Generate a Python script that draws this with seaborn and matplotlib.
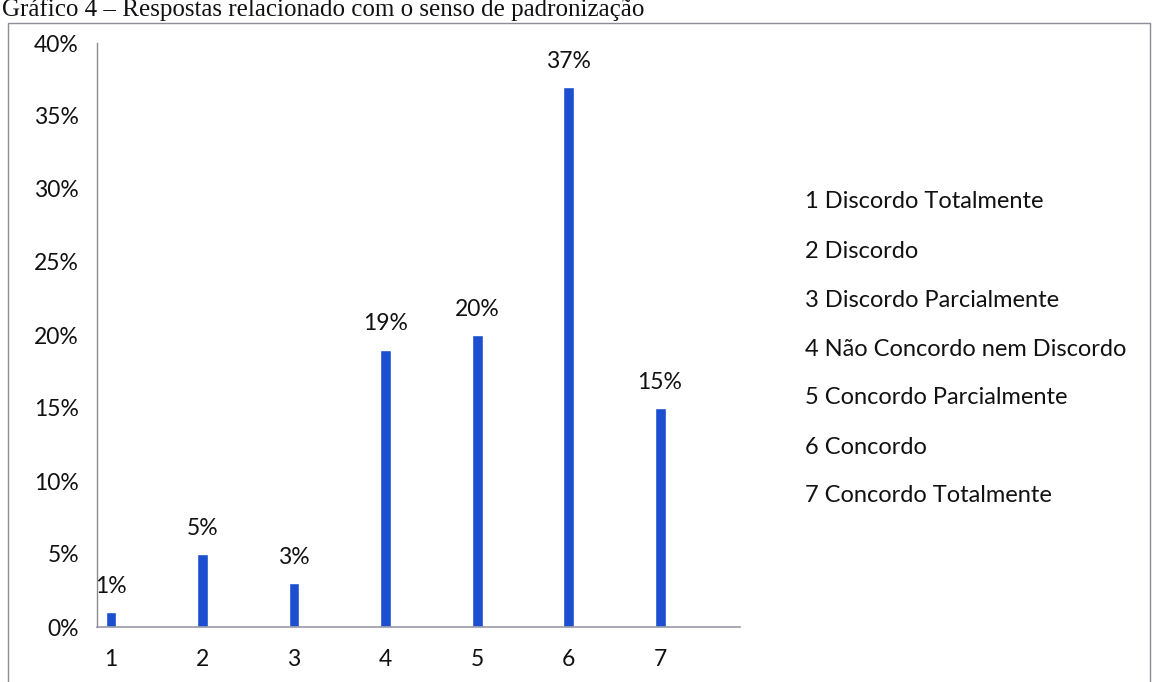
import matplotlib
matplotlib.use("Agg")
import matplotlib.pyplot as plt
import seaborn as sns
import pandas as pd
from matplotlib.patches import Rectangle

# === Data ===
categories = ["1", "2", "3", "4", "5", "6", "7"]
percent = [1, 5, 3, 19, 20, 37, 15]
y_ticks = [0, 5, 10, 15, 20, 25, 30, 35, 40]
legend_lines = [
    "1 Discordo Totalmente",
    "2 Discordo",
    "3 Discordo Parcialmente",
    "4 Não Concordo nem Discordo",
    "5 Concordo Parcialmente",
    "6 Concordo",
    "7 Concordo Totalmente",
]
title_text = "Gráfico 4 – Respostas relacionado com o senso de padronização"

# === Style ===
sns.set_style("white")
plt.rcParams['font.family'] = ['Lato', 'DejaVu Sans']
BAR_COLOR = "#1b4fcf"
TEXT_COLOR = "#111111"
FS = 16.5
W, H = 1154, 682

df = pd.DataFrame({"resposta": categories, "pct": percent})

fig = plt.figure(figsize=(W / 100, H / 100), dpi=100)
ax = fig.add_axes([97 / W, 1 - 627 / H, (740 - 97) / W, (627 - 43) / H])

sns.barplot(data=df, x="resposta", y="pct", color=BAR_COLOR, width=0.12,
            saturation=1, ax=ax)

ax.set_xlim(-0.153, 6.874)
ax.set_ylim(0, 40)
ax.set_yticks(y_ticks)
ax.set_yticklabels([f"{t}%" for t in y_ticks])
ax.set_xlabel("")
ax.set_ylabel("")
ax.tick_params(axis="both", length=0, labelsize=FS, colors=TEXT_COLOR)
ax.tick_params(axis="y", pad=13)
ax.tick_params(axis="x", pad=16)

for side in ["top", "right"]:
    ax.spines[side].set_visible(False)
ax.spines["left"].set_color("#8c8c8c")
ax.spines["bottom"].set_color("#9a9aa8")
ax.spines["left"].set_linewidth(1.0)
ax.spines["bottom"].set_linewidth(1.2)

# value labels
for i, v in enumerate(percent):
    ax.annotate(f"{v}%", (i, v), xytext=(0, 11), textcoords="offset points",
                ha="center", va="bottom", fontsize=FS, color=TEXT_COLOR)

# legend text block
for k, line in enumerate(legend_lines):
    fig.text(805 / W, 1 - (202 + 49 * k) / H, line, ha="left", va="center",
             fontsize=17, color=TEXT_COLOR)

# outer frame of the scanned chart
frame = Rectangle((8 / W, -0.05), (1150 - 8) / W, 1.05 - 23 / H,
                  transform=fig.transFigure, fill=False,
                  edgecolor="#8c8c9a", linewidth=1.0)
fig.patches.append(frame)

# caption at top
fig.text(2 / W, 1 - 16 / H, title_text, ha="left", va="baseline",
         fontsize=18, family=["Liberation Serif", "DejaVu Serif"], color=TEXT_COLOR)

fig.savefig("out.png", dpi=100)
